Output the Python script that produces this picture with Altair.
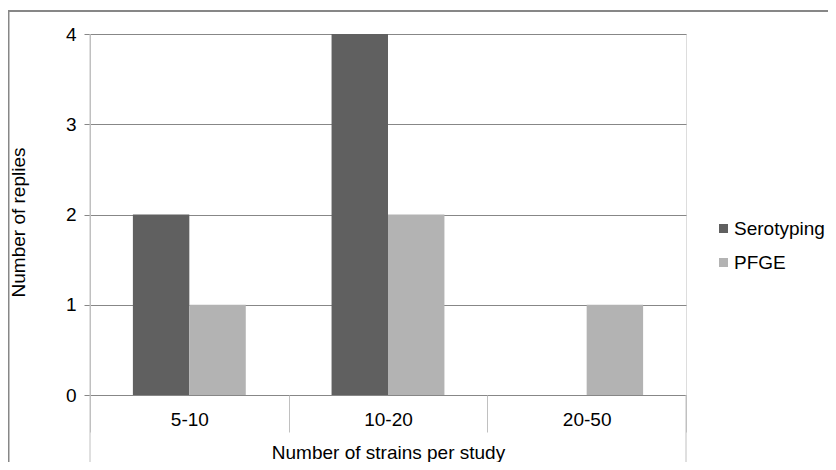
import altair as alt
import pandas as pd

categories = ["5-10", "10-20", "20-50"]
series_names = ["Serotyping", "PFGE"]
serotyping = [2, 4, 0]
pfge = [1, 2, 1]
y_ticks = [0, 1, 2, 3, 4]

rows = []
for c, s, p in zip(categories, serotyping, pfge):
    rows.append({"cat": c, "series": "Serotyping", "value": s})
    rows.append({"cat": c, "series": "PFGE", "value": p})
df = pd.DataFrame(rows)

FONT = "Liberation Sans"
FS = 19
W, H = 596, 361

xscale = alt.Scale(domain=categories, paddingInner=0, paddingOuter=0)
yscale = alt.Scale(domain=[0, 4], nice=False)

bars = alt.Chart(df).mark_bar().encode(
    x=alt.X("cat:N", scale=xscale, sort=categories,
            axis=alt.Axis(title="Number of strains per study", labelAngle=0,
                          tickBand="extent", tickSize=37, tickColor="#c0c0c0",
                          tickWidth=1, domain=False, grid=False,
                          labelPadding=-22, labelFont=FONT, labelFontSize=FS,
                          labelColor="#000000",
                          titleFont=FONT, titleFontSize=FS, titleFontWeight="normal",
                          titleColor="#000000", titleX=298, titleY=57,
                          titleAlign="center", titleBaseline="middle")),
    xOffset=alt.XOffset("series:N", sort=series_names,
                        scale=alt.Scale(domain=series_names, paddingInner=0, paddingOuter=0.76)),
    y=alt.Y("value:Q", scale=yscale,
            axis=alt.Axis(title="Number of replies", values=y_ticks, format="d",
                          grid=True, gridColor="#878787", gridWidth=1,
                          domain=True, domainColor="#c0c0c0", domainWidth=1,
                          tickSize=6, tickColor="#878787", tickWidth=1,
                          labelPadding=8, labelFont=FONT, labelFontSize=FS,
                          labelColor="#000000",
                          titleFont=FONT, titleFontSize=FS, titleFontWeight="normal",
                          titleColor="#000000", titleX=-72, titleY=188,
                          titleAlign="center", titleBaseline="middle", titleAngle=-90)),
    color=alt.Color("series:N", sort=series_names,
                    scale=alt.Scale(domain=series_names, range=["#606060", "#b3b3b3"]),
                    legend=alt.Legend(title=None, orient="none", legendX=624, legendY=185,
                                      symbolType="square", symbolSize=81,
                                      symbolStrokeWidth=0, labelFont=FONT,
                                      labelFontSize=FS, labelColor="#000000",
                                      labelOffset=1, rowPadding=14)),
)

left_edge = alt.Chart(pd.DataFrame({"cat": [categories[0]]})).mark_rule(
    color="#c0c0c0", strokeWidth=1).encode(
    x=alt.X("cat:N", scale=xscale, bandPosition=0),
    y=alt.value(0), y2=alt.value(440))

right_edge = alt.Chart(pd.DataFrame({"cat": [categories[-1]]})).mark_rule(
    color="#c0c0c0", strokeWidth=1).encode(
    x=alt.X("cat:N", scale=xscale, bandPosition=1),
    y=alt.value(H), y2=alt.value(440))

border = alt.Chart(pd.DataFrame({"a": [0]})).mark_rect(
    fill="transparent", stroke="#878787", strokeWidth=2).encode(
    x=alt.value(-81.5), y=alt.value(-23), x2=alt.value(900), y2=alt.value(600))

chart = alt.layer(border, bars, left_edge, right_edge).properties(
    width=W, height=H,
    autosize=alt.AutoSizeParams(type="none"),
    padding={"left": 82, "top": 26, "right": 142, "bottom": 67},
).configure_view(stroke=None).configure(background="white")

chart.save("out.html", embed_options={"renderer": "svg", "actions": False})
